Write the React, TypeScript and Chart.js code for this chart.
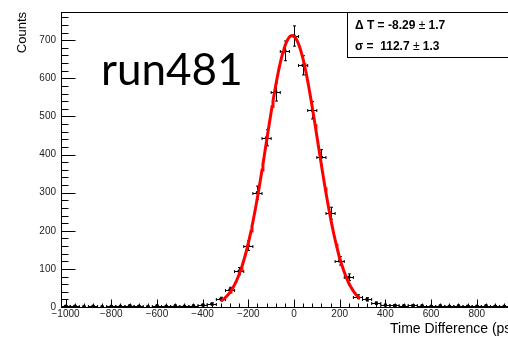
import React, { useEffect, useRef } from "react";
import { Chart, registerables } from "chart.js";

Chart.register(...registerables);

// Histogram of time differences, 40 ps bins
const BIN_CENTERS = [
  -1000, -960, -920, -880, -840, -800, -760, -720, -680, -640, -600, -560, -520,
  -480, -440, -400, -360, -320, -280, -240, -200, -160, -120, -80, -40, 0, 40,
  80, 120, 160, 200, 240, 280, 320, 360, 400, 440, 480, 520, 560, 600, 640, 680,
  720, 760, 800, 840, 880, 920, 960, 1000,
];
const COUNTS = [
  2, 2, 1, 2, 1, 2, 2, 3, 2, 1, 3, 2, 3,
  2, 3, 5, 8, 21, 45, 94, 161, 300, 444, 564, 672, 711, 634,
  516, 393, 246, 121, 78, 27, 20, 10, 5, 4, 3, 4, 3, 2, 3, 2,
  3, 2, 2, 3, 2, 2, 1, 2,
];
const BIN_HALF_WIDTH = 20;

// Axis settings
const X_RANGE = [-1020, 1020];
const Y_RANGE = [0, 774];
const X_TICKS = [-1000, -800, -600, -400, -200, 0, 200, 400, 600, 800, 1000];
const Y_TICKS = [0, 100, 200, 300, 400, 500, 600, 700];
const X_MINOR_STEP = 40;
const Y_MINOR_STEP = 20;

// Gaussian fit result
const FIT_MEAN = -8.29;
const FIT_MEAN_ERR = 1.7;
const FIT_SIGMA = 112.7;
const FIT_SIGMA_ERR = 1.3;
const FIT_AMPLITUDE = 712;
const FIT_RANGE = [-320, 290];

const RUN_LABEL = "run481";
const X_TITLE = "Time Difference (ps)";
const Y_TITLE = "Counts";

const fitCurve = () => {
  const pts: { x: number; y: number }[] = [];
  for (let x = FIT_RANGE[0]; x <= FIT_RANGE[1]; x += 4) {
    const z = (x - FIT_MEAN) / FIT_SIGMA;
    pts.push({ x, y: FIT_AMPLITUDE * Math.exp(-0.5 * z * z) });
  }
  return pts;
};

const minus = (v: number) => String(v).replace("-", "\u2212");

const rootStyle = {
  id: "rootStyle",
  beforeDatasetsDraw(chart: any) {
    const { ctx } = chart;
    const xs = chart.scales.x;
    const ys = chart.scales.y;
    const area = chart.chartArea;
    ctx.save();
    ctx.beginPath();
    ctx.rect(area.left, area.top, area.right - area.left, area.bottom - area.top);
    ctx.clip();
    ctx.strokeStyle = "#000";
    ctx.lineWidth = 1;
    BIN_CENTERS.forEach((c, i) => {
      const n = COUNTS[i];
      const err = Math.sqrt(n);
      const px = Math.round(xs.getPixelForValue(c)) + 0.5;
      const py = Math.round(ys.getPixelForValue(n)) + 0.5;
      const x0 = xs.getPixelForValue(c - BIN_HALF_WIDTH);
      const x1 = xs.getPixelForValue(c + BIN_HALF_WIDTH);
      const y0 = ys.getPixelForValue(Math.max(0, n - err));
      const y1 = ys.getPixelForValue(n + err);
      ctx.beginPath();
      ctx.moveTo(x0, py);
      ctx.lineTo(x1, py);
      ctx.moveTo(px, y0);
      ctx.lineTo(px, y1);
      // small end caps
      ctx.moveTo(px - 1.5, y1);
      ctx.lineTo(px + 1.5, y1);
      ctx.moveTo(px - 1.5, y0);
      ctx.lineTo(px + 1.5, y0);
      ctx.moveTo(x0, py - 1.5);
      ctx.lineTo(x0, py + 1.5);
      ctx.moveTo(x1, py - 1.5);
      ctx.lineTo(x1, py + 1.5);
      ctx.stroke();
    });
    ctx.restore();
  },
  afterDraw(chart: any) {
    const { ctx } = chart;
    const xs = chart.scales.x;
    const ys = chart.scales.y;
    const area = chart.chartArea;
    const L = Math.round(area.left) + 0.5;
    const R = Math.round(area.right) + 0.5;
    const T = Math.round(area.top) + 0.5;
    const B = Math.round(area.bottom) + 0.5;
    ctx.save();
    ctx.strokeStyle = "#000";
    ctx.lineWidth = 1;
    // frame
    ctx.strokeRect(L, T, R - L, B - T);
    // y ticks, pointing into the frame
    ctx.beginPath();
    for (let v = Y_RANGE[0]; v <= Y_RANGE[1]; v += Y_MINOR_STEP) {
      const y = Math.round(ys.getPixelForValue(v)) + 0.5;
      const len = Y_TICKS.includes(v) ? 14 : 7;
      ctx.moveTo(L, y);
      ctx.lineTo(L + len, y);
    }
    // x ticks
    for (let v = X_TICKS[0]; v <= X_RANGE[1]; v += X_MINOR_STEP) {
      const x = Math.round(xs.getPixelForValue(v)) + 0.5;
      const len = X_TICKS.includes(v) ? 8 : 4;
      ctx.moveTo(x, B);
      ctx.lineTo(x, B - len);
    }
    ctx.stroke();

    // axis titles
    ctx.fillStyle = "#000";
    ctx.font = "14px 'Liberation Sans', Arial, sans-serif";
    ctx.textBaseline = "alphabetic";
    ctx.textAlign = "left";
    ctx.fillText(X_TITLE, 390, 333);
    ctx.font = "13px 'Liberation Sans', Arial, sans-serif";
    ctx.save();
    ctx.translate(26, area.top);
    ctx.rotate(-Math.PI / 2);
    ctx.textAlign = "right";
    ctx.fillText(Y_TITLE, 0, 0);
    ctx.restore();

    // run label
    ctx.font = "44px Lato, 'Open Sans', sans-serif";
    ctx.textAlign = "left";
    ctx.fillText(RUN_LABEL, 101, 85);

    // fit statistics box
    const bx = 347.5;
    const by = T;
    ctx.fillStyle = "#fff";
    ctx.fillRect(bx, by, 200, 45);
    ctx.strokeRect(bx, by, 200, 45);
    ctx.fillStyle = "#000";
    const bold = "bold 12px 'Liberation Sans', Arial, sans-serif";
    const plain = "12px 'Liberation Sans', Arial, sans-serif";
    const drawLine = (parts: [string, string][], x: number, y: number) => {
      let cx = x;
      parts.forEach(([txt, f]) => {
        ctx.font = f;
        ctx.fillText(txt, cx, y);
        cx += ctx.measureText(txt).width;
      });
    };
    drawLine(
      [
        ["\u0394 T = " + FIT_MEAN.toFixed(2) + " ", bold],
        ["\u00b1", plain],
        [" " + FIT_MEAN_ERR.toFixed(1), bold],
      ],
      355,
      29
    );
    drawLine(
      [
        ["\u03c3 =  " + FIT_SIGMA.toFixed(1) + " ", bold],
        ["\u00b1", plain],
        [" " + FIT_SIGMA_ERR.toFixed(1), bold],
      ],
      355,
      50
    );
    ctx.restore();
  },
};

export default function App() {
  const canvasRef = useRef<HTMLCanvasElement | null>(null);

  useEffect(() => {
    const canvas = canvasRef.current;
    if (!canvas) return;
    const chart = new Chart(canvas, {
      type: "scatter",
      data: {
        datasets: [
          {
            label: "fit",
            data: fitCurve(),
            showLine: true,
            borderColor: "#ff0000",
            borderWidth: 3,
            pointRadius: 0,
            tension: 0,
            order: 0,
          },
          {
            label: "counts",
            data: BIN_CENTERS.map((c, i) => ({ x: c, y: COUNTS[i] })),
            showLine: false,
            pointRadius: 1.8,
            pointBackgroundColor: "#000",
            pointBorderColor: "#000",
            pointBorderWidth: 0,
            order: 1,
          },
        ],
      },
      options: {
        responsive: false,
        animation: false,
        devicePixelRatio: 1,
        layout: { autoPadding: false, padding: { top: 12, left: 0, right: 0, bottom: 0 } },
        plugins: {
          legend: { display: false },
          tooltip: { enabled: false },
        },
        scales: {
          x: {
            type: "linear",
            min: X_RANGE[0],
            max: X_RANGE[1],
            afterFit: (s: any) => {
              s.height = 30;
              s.paddingLeft = 0;
              s.paddingRight = 0;
            },
            afterBuildTicks: (s: any) => {
              s.ticks = X_TICKS.map((v) => ({ value: v }));
            },
            grid: { display: false, drawTicks: false },
            border: { display: false },
            ticks: {
              autoSkip: false,
              maxRotation: 0,
              padding: 1,
              color: "#222",
              font: { family: "'Liberation Sans', Arial, sans-serif", size: 10 },
              callback: (v: any) => minus(Number(v)),
            },
          },
          y: {
            type: "linear",
            min: Y_RANGE[0],
            max: Y_RANGE[1],
            afterFit: (s: any) => {
              s.width = 61;
              s.paddingTop = 0;
              s.paddingBottom = 0;
            },
            afterBuildTicks: (s: any) => {
              s.ticks = Y_TICKS.map((v) => ({ value: v }));
            },
            grid: { display: false, drawTicks: false },
            border: { display: false },
            ticks: {
              autoSkip: false,
              padding: 5,
              color: "#222",
              font: { family: "'Liberation Sans', Arial, sans-serif", size: 10 },
              callback: (v: any) => String(v),
            },
          },
        },
      },
      plugins: [rootStyle],
    });
    return () => chart.destroy();
  }, []);

  return (
    <div
      style={{
        position: "fixed",
        left: 0,
        top: 0,
        width: 508,
        height: 337,
        overflow: "hidden",
        background: "#fff",
      }}
    >
      <canvas ref={canvasRef} width={527} height={337} style={{ display: "block" }} />
    </div>
  );
}
